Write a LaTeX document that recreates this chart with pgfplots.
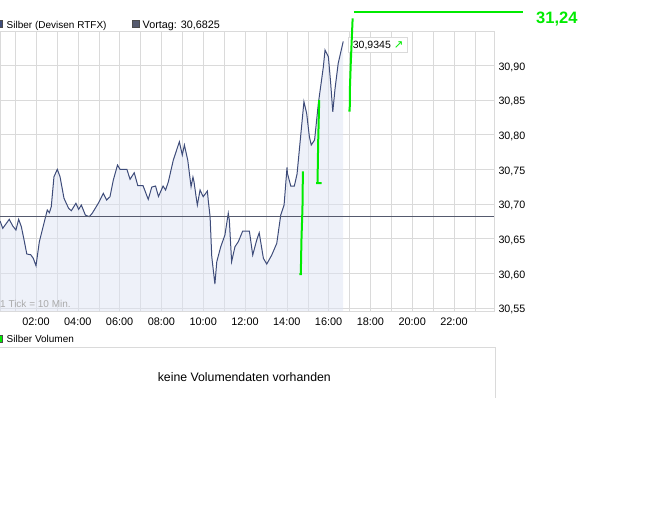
\documentclass[border=0pt]{standalone}
\usepackage{fontspec}
\setmainfont{Liberation Sans}
\newfontfamily\symfont{DejaVu Sans}
\usepackage{pgfplots}
\pgfplotsset{compat=1.18}
\usepackage{pgfplotstable}

\definecolor{linecol}{RGB}{62,76,122}
\definecolor{areacol}{RGB}{221,227,243}
\definecolor{gridcol}{RGB}{218,218,218}
\definecolor{vortagcol}{RGB}{85,90,110}
\definecolor{signal}{RGB}{0,235,0}
\definecolor{ticknote}{RGB}{170,170,170}

% Silber (Devisen RTFX), hour of day vs price
\pgfplotstableread{
h v
0.28 30.6755
0.41 30.6649
0.72 30.6779
0.89 30.6682
1.04 30.6625
1.17 30.6779
1.30 30.6672
1.43 30.6480
1.56 30.6279
1.75 30.6268
1.87 30.6217
2.00 30.6110
2.16 30.6456
2.32 30.6649
2.48 30.6841
2.54 30.6913
2.64 30.6874
2.73 30.6961
2.86 30.7393
3.02 30.7500
3.15 30.7393
3.34 30.7082
3.56 30.6938
3.69 30.6903
3.91 30.7010
4.04 30.6923
4.17 30.6985
4.36 30.6841
4.55 30.6817
4.69 30.6866
4.98 30.7010
5.22 30.7154
5.38 30.7057
5.54 30.7105
5.70 30.7346
5.90 30.7562
6.02 30.7500
6.35 30.7500
6.50 30.7356
6.70 30.7451
6.87 30.7266
7.12 30.7266
7.37 30.7067
7.54 30.7245
7.72 30.7259
7.86 30.7108
8.08 30.7259
8.20 30.7202
8.33 30.7317
8.57 30.7634
8.86 30.7898
9.00 30.7706
9.10 30.7851
9.26 30.7634
9.42 30.7249
9.51 30.7389
9.56 30.7321
9.66 30.7105
9.72 30.6985
9.85 30.7202
10.00 30.7105
10.20 30.7187
10.24 30.7057
10.33 30.6817
10.41 30.6240
10.52 30.5951
10.56 30.5846
10.65 30.6168
10.84 30.6384
11.04 30.6553
11.15 30.6769
11.20 30.6866
11.25 30.6769
11.36 30.6168
11.52 30.6384
11.68 30.6456
11.89 30.6610
12.21 30.6610
12.37 30.6264
12.56 30.6480
12.68 30.6586
12.88 30.6217
13.04 30.6134
13.28 30.6264
13.52 30.6433
13.71 30.6841
13.87 30.6985
14.01 30.7526
14.03 30.7442
14.19 30.7259
14.36 30.7259
14.49 30.7432
14.63 30.7875
14.82 30.8475
14.95 30.8308
15.08 30.7970
15.17 30.7851
15.33 30.7923
15.51 30.8452
15.75 30.8980
15.83 30.9221
15.99 30.9124
16.10 30.8740
16.20 30.8331
16.31 30.8668
16.46 30.9029
16.70 30.9345
}\silber

\begin{document}
\begin{tikzpicture}[font=\fontsize{10.5}{12}\selectfont]
\path[use as bounding box] (0pt,0pt) rectangle (656pt,-505pt);

\begin{axis}[
    at={(0pt,-311pt)}, anchor=south west,
    scale only axis, width=494pt, height=280pt,
    xmin=0.2775, xmax=23.914,
    ymin=30.5457, ymax=30.9495,
    axis line style={gridcol},
    xtick={2,4,6,8,10,12,14,16,18,20,22},
    xticklabels={02:00,04:00,06:00,08:00,10:00,12:00,14:00,16:00,18:00,20:00,22:00},
    minor xtick={1,3,5,7,9,11,13,15,17,19,21,23},
    ytick={30.55,30.6,30.65,30.7,30.75,30.8,30.85,30.9},
    yticklabel pos=right,
    xmajorgrids, xminorgrids, ymajorgrids,
    major grid style={gridcol}, minor grid style={gridcol},
    major tick length=0pt, minor tick length=0pt,
    tick style={draw=none},
    x tick label style={anchor=base, inner sep=0pt, yshift=-14.7pt,
        font=\fontsize{10.9}{12}\selectfont},
    y tick label style={anchor=base west, inner sep=0pt, xshift=4.3pt, yshift=-4.7pt,
        font=\fontsize{10.7}{12}\selectfont,
        /pgf/number format/fixed, /pgf/number format/fixed zerofill,
        /pgf/number format/precision=2, /pgf/number format/use comma,
        /pgf/number format/assume math mode=true},
]
\addplot[draw=none, fill=areacol, fill opacity=0.5] table {\silber} \closedcycle;
\addplot[linecol, line width=1pt] table {\silber};
\addplot[vortagcol, line width=1pt] coordinates {(0.2775,30.6825) (23.914,30.6825)};
\end{axis}

% last price box
\filldraw[fill=white, draw=gridcol] (347.7pt,-37.3pt) rectangle (406.7pt,-52.7pt);
\node[anchor=base west, inner sep=0pt] at (352.7pt,-49pt)
    {30,9345 {\symfont\fontsize{11.5}{12}\selectfont\color{signal}↗}};

% green signal lines, drawn past the plot edge
\begin{axis}[
    at={(0pt,-311pt)}, anchor=south west,
    scale only axis, width=494pt, height=280pt,
    xmin=0.2775, xmax=23.914,
    ymin=30.5457, ymax=30.9495,
    hide axis, clip=false,
]
\addplot[signal, line width=2pt] coordinates {
    (14.60,30.599) (14.67,30.599) (14.70,30.647) (14.75,30.695) (14.77,30.747)};
\addplot[signal, line width=2pt] coordinates {
    (15.67,30.730) (15.40,30.730) (15.47,30.730) (15.50,30.788) (15.55,30.850)};
\addplot[signal, line width=2pt] coordinates {
    (16.94,30.8345) (17.01,30.8345) (17.02,30.8668) (17.06,30.9029) (17.15,30.9678)};
\addplot[signal, line width=2pt] coordinates {(17.215,30.9769) (25.29,30.9769)};
\end{axis}

\node[anchor=base west, inner sep=0pt, signal, font=\fontsize{16.5}{18}\selectfont\bfseries]
    at (536pt,-24pt) {31,24};

% legend
\filldraw[fill=linecol, draw=black!70] (-4pt,-20.5pt) rectangle (2.5pt,-27.5pt);
\node[anchor=base west, inner sep=0pt, font=\fontsize{10}{12}\selectfont]
    at (6.5pt,-28.3pt) {Silber (Devisen RTFX)};
\filldraw[fill=vortagcol, draw=black!70] (132.5pt,-20.5pt) rectangle (139.5pt,-27.5pt);
\node[anchor=base west, inner sep=0pt, font=\fontsize{10.8}{12}\selectfont]
    at (142.5pt,-28.3pt) {Vortag: 30,6825};

\node[anchor=base west, inner sep=0pt, ticknote, font=\fontsize{10}{12}\selectfont]
    at (0pt,-307.7pt) {1 Tick = 10 Min.};

% volume panel
\filldraw[fill=signal, draw=black!70] (-4pt,-335.5pt) rectangle (2pt,-342pt);
\node[anchor=base west, inner sep=0pt, font=\fontsize{10}{12}\selectfont]
    at (6.5pt,-342.3pt) {Silber Volumen};
\draw[gridcol] (0pt,-347.3pt) -- (495pt,-347.3pt) -- (495pt,-397.7pt);
\node[anchor=base, inner sep=0pt, font=\fontsize{12.3}{14}\selectfont]
    at (244.3pt,-381pt) {keine Volumendaten vorhanden};
\end{tikzpicture}
\end{document}
